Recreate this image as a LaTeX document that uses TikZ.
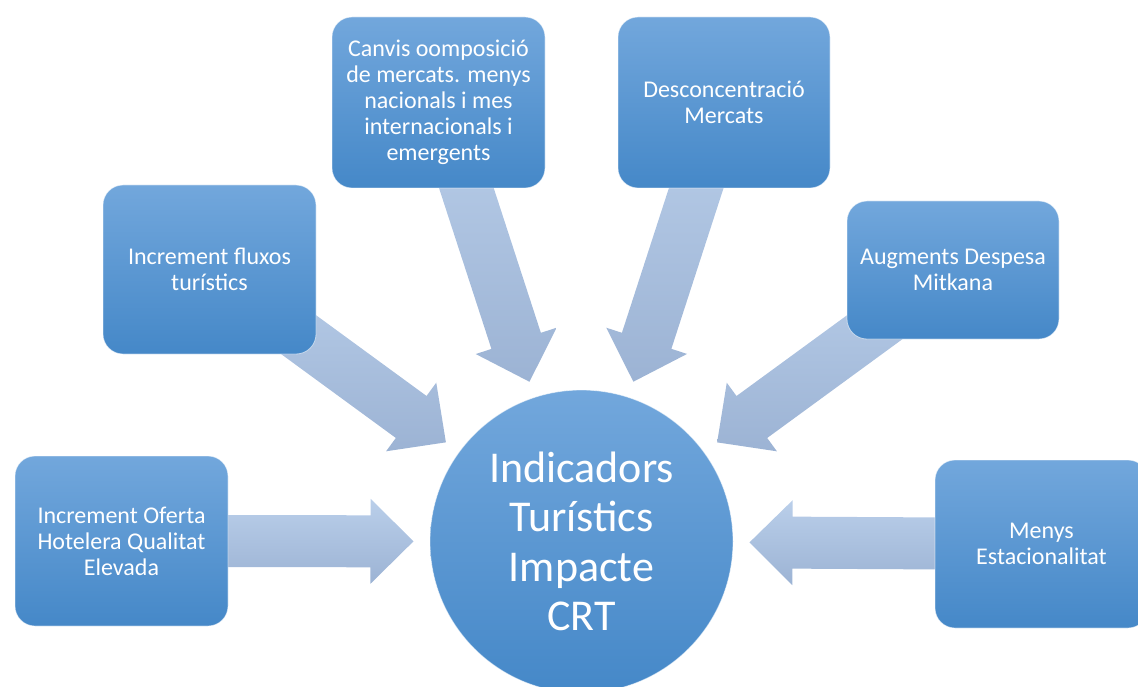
\documentclass[tikz,border=0pt]{standalone}
\usepackage{fontspec}
\setmainfont{Carlito}
\usetikzlibrary{calc}
\pgfdeclarelayer{bg}
\pgfsetlayers{bg,main}
\definecolor{boxtop}{HTML}{72A7DC}
\definecolor{boxmid}{HTML}{5499D9}
\definecolor{boxbot}{HTML}{4588C8}
\definecolor{arrtop}{HTML}{BACFEA}
\definecolor{arrbot}{HTML}{9CB3D4}
\newcommand\radarrow[2]{%
  \path coordinate (#2T) at ($(hub.center)!168pt!(#1.center)$)
        coordinate (#2H) at ($(#2T)!43pt!(#1.center)$);
  \path[arrowfill] ($(#1.center)!26pt!-90:(#2H)$) -- ($(#2H)!26pt!90:(#1.center)$)
     -- ($(#2H)!42.5pt!90:(#1.center)$) -- (#2T) -- ($(#2H)!42.5pt!-90:(#1.center)$)
     -- ($(#2H)!26pt!-90:(#1.center)$) -- ($(#1.center)!26pt!90:(#2H)$) -- cycle;
}
\begin{document}
\begin{tikzpicture}[x=1pt,y=-1pt,
  stepbox/.style={rectangle, rounded corners=20pt, top color=boxtop, middle color=boxmid,
    bottom color=boxbot, draw=white, draw opacity=0.55, line width=0.8pt, text=white,
    font=\fontsize{24}{26}\selectfont, align=center, inner sep=0pt},
  hub/.style={circle, top color=boxtop, middle color=boxmid, bottom color=boxbot,
    draw=white, draw opacity=0.55, line width=0.8pt, text=white,
    font=\fontsize{44}{49.5}\selectfont, align=center, inner sep=0pt, minimum size=303pt},
  arrowfill/.style={top color=arrtop, bottom color=arrbot}]
\useasboundingbox (0,0) rectangle (1138,687);
\clip (0,0) rectangle (1138,687);

\node[hub] (hub) at (581.5,541.5) {Indicadors\\Turístics\\Impacte\\CRT};
\node[stepbox, minimum width=213pt, minimum height=170pt] (a) at (121.5,541)
  {Increment Oferta\\Hotelera Qualitat\\Elevada};
\node[stepbox, minimum width=213pt, minimum height=169pt] (b) at (209.5,269.5)
  {Increment fluxos\\turístics};
\node[stepbox, minimum width=213pt, minimum height=171pt] (c) at (438.5,102.5)
  {Canvis oomposició\\de mercats. menys\\nacionals i mes\\internacionals i\\emergents};
\node[stepbox, minimum width=212pt, minimum height=171pt] (d) at (724,102.5)
  {Desconcentració\\Mercats};
\node[stepbox, minimum width=212pt, minimum height=138pt] (e) at (953,270)
  {Augments Despesa\\Mitkana};
\node[stepbox, minimum width=213pt, minimum height=168pt] (f) at (1041.5,544)
  {Menys\\Estacionalitat};

\begin{pgfonlayer}{bg}
  \radarrow{a}{aa}
  \radarrow{b}{ab}
  \radarrow{c}{ac}
  \radarrow{d}{ad}
  \radarrow{e}{ae}
  \radarrow{f}{af}
\end{pgfonlayer}
\end{tikzpicture}
\end{document}
